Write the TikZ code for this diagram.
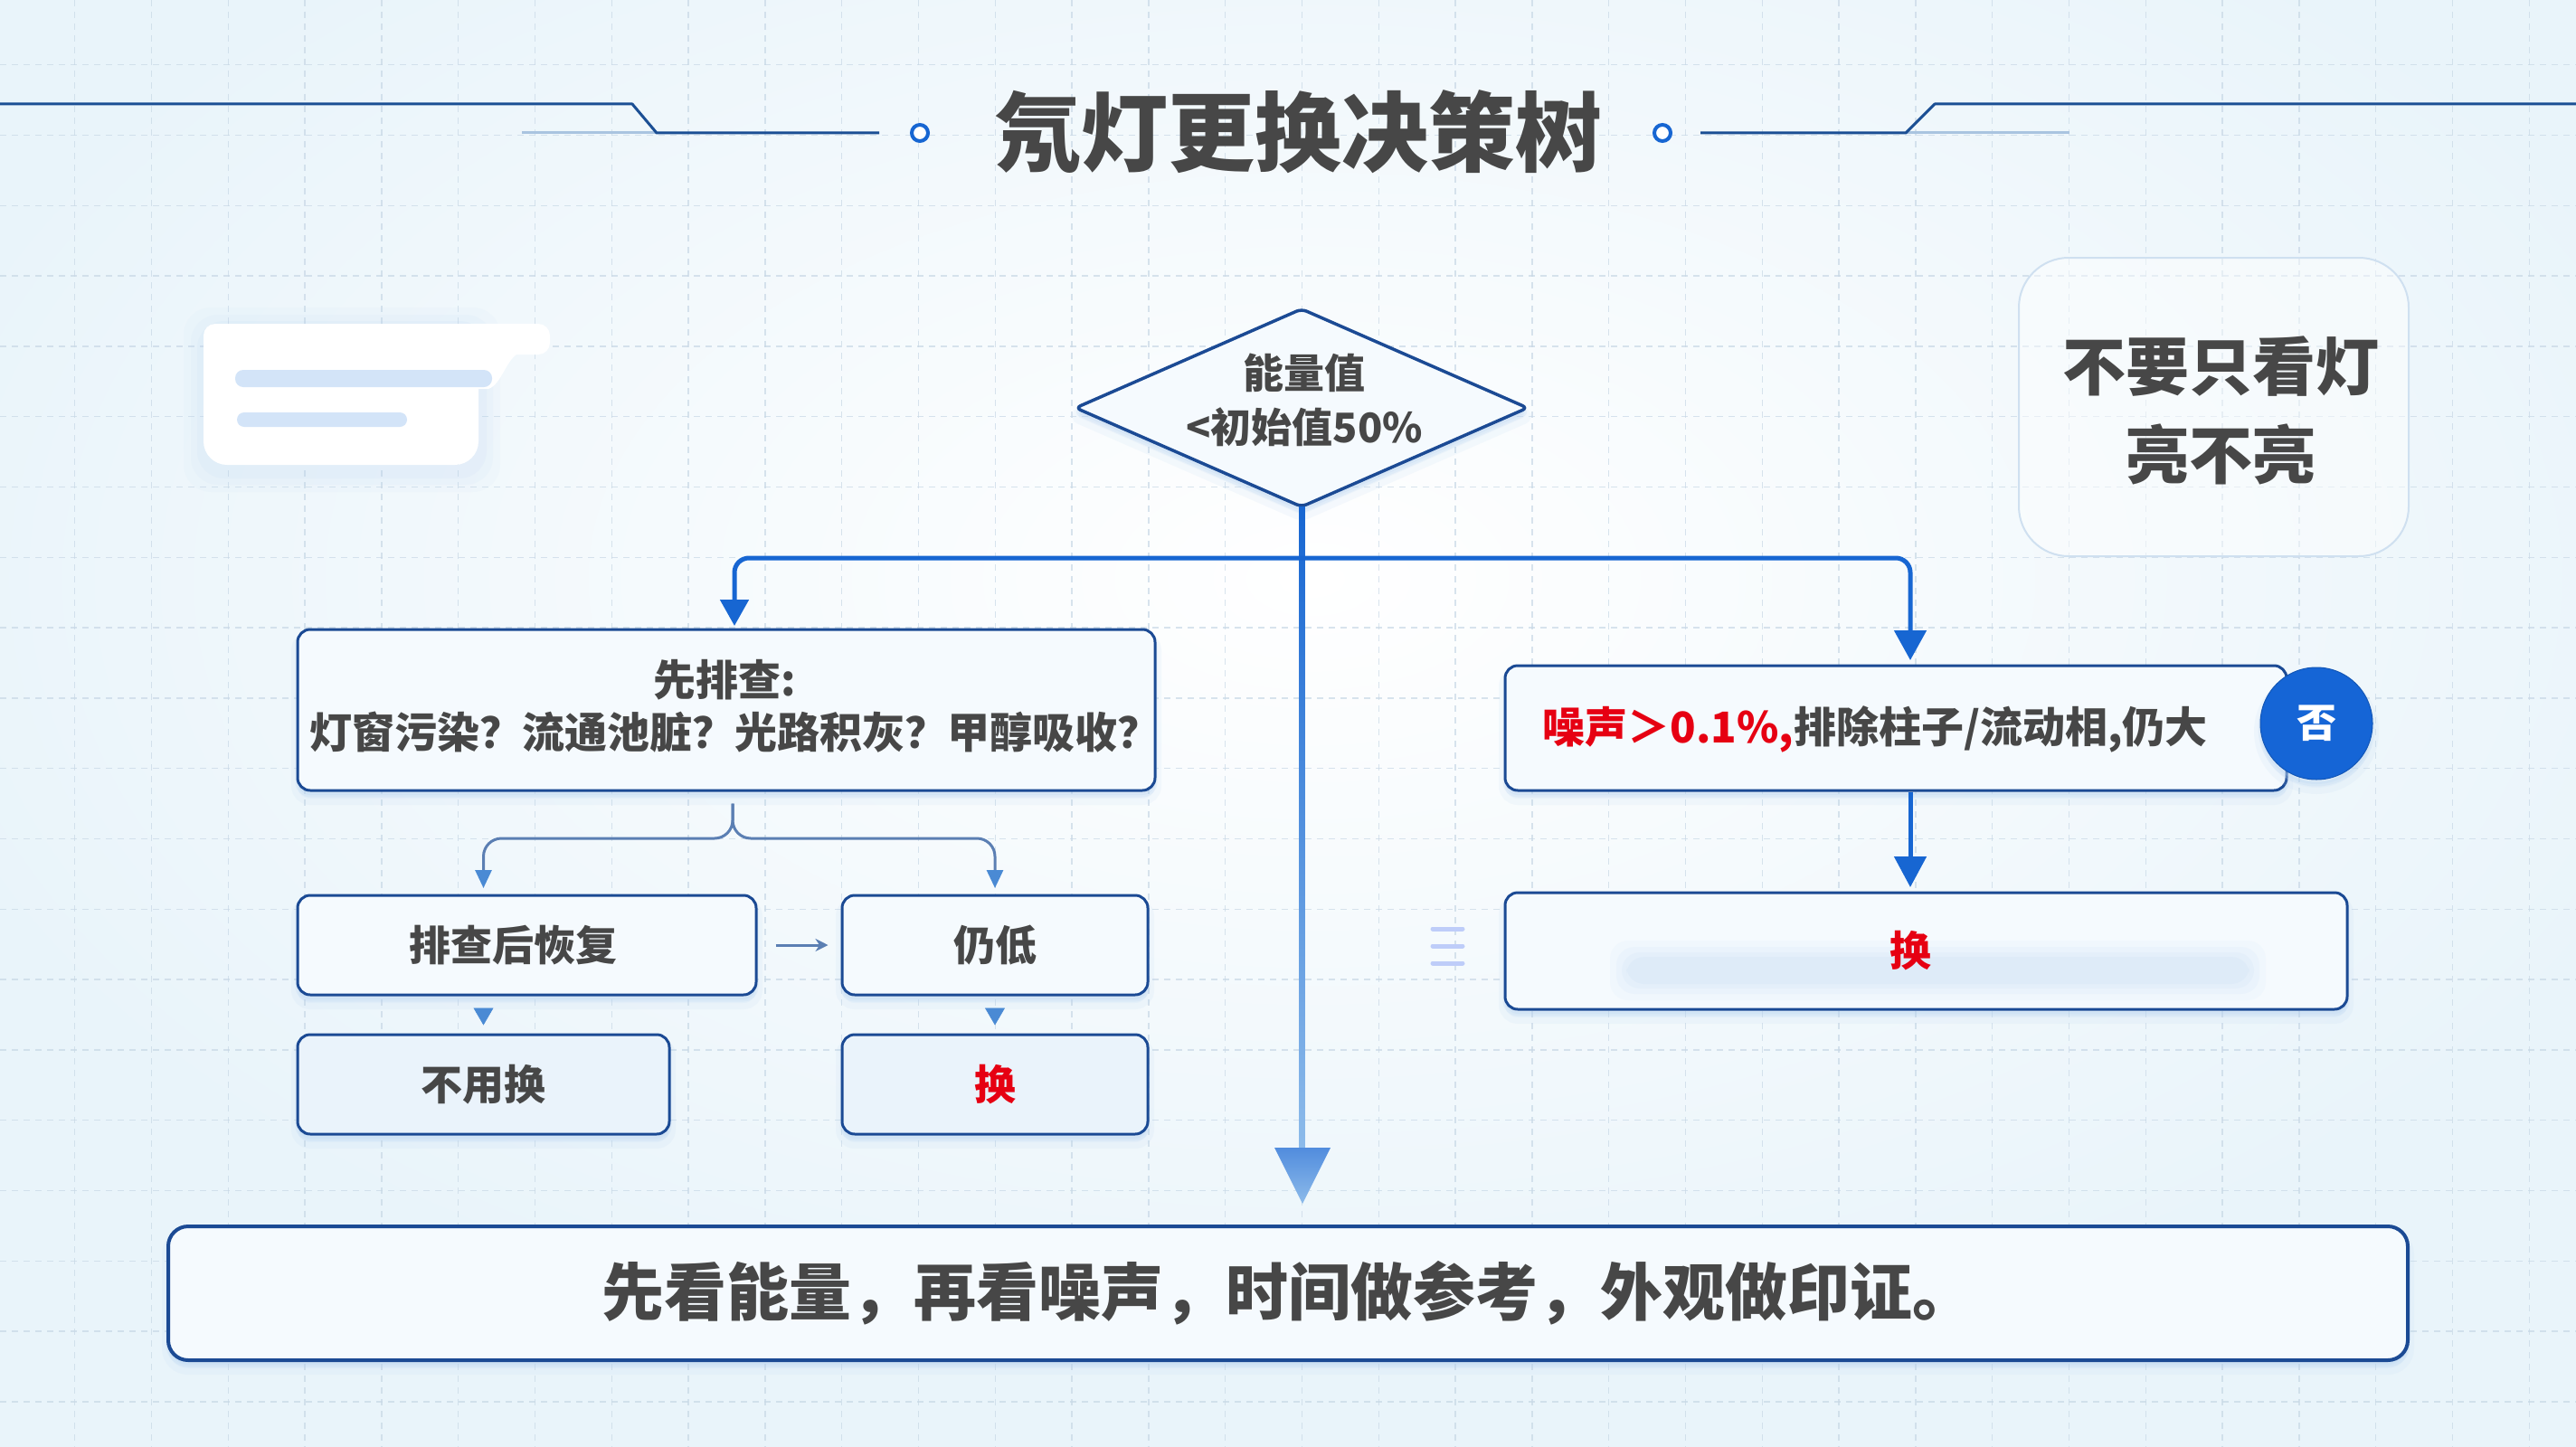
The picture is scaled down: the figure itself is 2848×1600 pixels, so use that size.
\documentclass[tikz,border=0pt]{standalone}
\usepackage{fontspec}
\setmainfont{Noto Sans CJK SC}
\usetikzlibrary{arrows.meta,shapes.geometric,shadows,calc}
\definecolor{navy}{HTML}{1B4A94}
\definecolor{lineblue}{HTML}{1766D2}
\definecolor{lightline}{HTML}{8DBBEA}
\definecolor{thinc}{HTML}{5B7FB3}
\definecolor{tric}{HTML}{4A8AD4}
\definecolor{txt}{HTML}{474747}
\definecolor{hot}{HTML}{E60012}
\definecolor{cblue}{HTML}{1565D6}
\definecolor{boxfill}{HTML}{F5FAFE}
\definecolor{boxfillb}{HTML}{EAF3FB}
\definecolor{bgc}{HTML}{E9F4FA}
\definecolor{glowc}{HTML}{B8D4F2}
\definecolor{gridc}{HTML}{C8D8E6}
\definecolor{barc}{HTML}{D3E4F8}
\definecolor{titleline}{HTML}{1B4F94}
\definecolor{titlelight}{HTML}{A9C4E0}
\definecolor{notec}{HTML}{CFE0F0}
\tikzset{
  glow/.style={general shadow={fill=glowc,draw=glowc,line width=14pt,opacity=0.12,shadow yshift=-9pt},
               general shadow={fill=glowc,draw=glowc,line width=5pt,opacity=0.22,shadow yshift=-5pt}},
  card/.style={rectangle,rounded corners=14pt,draw=navy,line width=3pt,fill=boxfill,inner sep=0pt,glow,text=txt},
  t46/.style={font=\bfseries\fontsize{46}{58}\selectfont,text=txt,align=center},
  conn/.style={draw=lineblue,line width=5pt},
  thinconn/.style={draw=thinc,line width=3pt},
  gridl/.style={draw=gridc,line width=1.4pt,dash pattern=on 7pt off 6pt,opacity=0.7},
}
\begin{document}
\begin{tikzpicture}[x=1pt,y=-1pt]
\useasboundingbox (0,0) rectangle (2848,1600);
% background
\fill[bgc] (0,0) rectangle (2848,1600);
\shade[inner color=white,outer color=bgc] (1450,640) ellipse (1600pt and 900pt);
\foreach \i in {0,...,33} \draw[gridl] ({82.6+84.8*\i},0) -- ++(0,1600);
\foreach \j in {0,...,20} \draw[gridl] (0,{71.7+77.8*\j}) -- ++(2848,0);

% title
\node[font=\bfseries\fontsize{96}{110}\selectfont,text=txt] (title) at (1435,146) {氖灯更换决策树};
\draw[titlelight,line width=3pt] (577,147) -- (726,147);
\draw[titlelight,line width=3pt] (2107,147) -- (2288,147);
\draw[titleline,line width=3pt,line join=round] (0,115) -- (699,115) -- (726,147) -- (972,147);
\draw[titleline,line width=3pt,line join=round] (1880,147) -- (2107,147) -- (2139,115) -- (2848,115);
\draw[lineblue,line width=4pt,fill=white] (1017,147) circle (9pt);
\draw[lineblue,line width=4pt,fill=white] (1838,147) circle (9pt);

% decorative card top left
\begin{scope}
\foreach \r/\o in {22/0.06,14/0.08,7/0.1}
  \fill[glowc,opacity=\o,rounded corners=30pt] (225-\r,362-\r) rectangle (531+\r,522+\r);
\fill[white,rounded corners=26pt] (225,358) rectangle (529,514);
\fill[white,rounded corners=13pt] (225,358) rectangle (608,392);
\fill[white] (520,390) -- (575,390) .. controls (560,395) and (555,425) .. (540,430) -- (520,430) -- cycle;
\fill[barc,rounded corners=9pt] (260,409) rectangle (544,428);
\fill[barc,rounded corners=8pt] (262,456) rectangle (450,472);
\end{scope}

% note box
\node[rectangle,rounded corners=55pt,draw=notec,line width=2pt,fill=white,fill opacity=0.45,
      minimum width=431pt,minimum height=330pt,inner sep=0pt] (note) at (2447.5,450) {};
\node[font=\bfseries\fontsize{70}{98}\selectfont,text=txt,align=center] (notet) at (2455,454) {不要只看灯\\亮不亮};

% diamond
\node[diamond,draw=navy,line width=3.5pt,fill=boxfill,minimum width=501pt,minimum height=220pt,
      inner sep=0pt,aspect=2.28,rounded corners=6pt,glow] (dia) at (1439,451) {};
\node[t46,font=\bfseries\fontsize{45}{60}\selectfont] (diat) at (1442,442) {能量值\\<初始值50\%};

% boxes
\node[card,minimum width=948pt,minimum height=178pt] (b1) at (803,785) {};
\node[t46,font=\bfseries\fontsize{47}{58}\selectfont] (b1t) at (812,781) {先排查:\kern22pt\\灯窗污染？流通池脏？光路积灰？甲醇吸收？};
\node[card,minimum width=507pt,minimum height=110pt] (b2) at (582.5,1045) {};
\node[t46] (b2t) at (567,1045) {排查后恢复};
\node[card,minimum width=338pt,minimum height=110pt,t46] (b3) at (1100,1045) {仍低};
\node[card,fill=boxfillb,minimum width=411pt,minimum height=110pt,t46] (b4) at (534.5,1199) {不用换};
\node[card,fill=boxfillb,minimum width=338pt,minimum height=110pt,t46,text=hot] (b5) at (1100,1199) {换};

\node[card,minimum width=864pt,minimum height=138pt] (rbox) at (2096,805) {};
\node[t46,font=\bfseries\fontsize{47}{58}\selectfont] (rboxt) at (2073,806) {{\color{hot}噪声＞0.1\%,}排除柱子/流动相,仍大};
\node[circle,fill=cblue,draw=cblue!85!black,line width=1pt,minimum size=124pt,inner sep=0pt,text=white,
      font=\bfseries\fontsize{44}{50}\selectfont,glow] (no) at (2561,800) {否};

\node[card,minimum width=931pt,minimum height=129pt] (hbox) at (2129.5,1051.5) {};
\foreach \r/\o in {20/0.07,13/0.09,7/0.11,2/0.13}
  \fill[glowc,opacity=\o,rounded corners=20pt] (1800-\r,1060-\r) rectangle (2485+\r,1086+\r);
\coordinate (jr) at (2112,617);
\node[font=\bfseries\fontsize{46}{50}\selectfont,text=hot] (hboxt) at (jr |- hbox.center) {换};
\foreach \yy in {1027,1046,1065} \draw[barc!90!blue,line width=5pt,line cap=round] (1584,\yy) -- (1617,\yy);

\node[card,rounded corners=22pt,line width=4pt,minimum width=2476pt,minimum height=148pt,
      font=\bfseries\fontsize{69}{80}\selectfont] (sum) at (1424,1430) {先看能量，再看噪声，时间做参考，外观做印证。};

% connectors
\coordinate (j) at (1440,617);
\shade[top color=lineblue,bottom color=lightline] ($(dia.south)+(-2.8,-2)$) rectangle (1442.8,1270);
\coordinate (mhead) at (1440,1269);
\coordinate (mtip) at (1440,1331);
\shade[top color=lineblue!75!white,bottom color=lightline] ($(mhead)+(-31,0)$) -- ($(mhead)+(31,0)$) -- (mtip) -- cycle;
\draw[conn,rounded corners=16pt,-{Triangle[width=31pt,length=29pt]},shorten >=2.5pt] (j) -| ([xshift=9pt]b1.north);
\draw[conn,rounded corners=16pt,-{Triangle[width=35pt,length=33pt]},shorten >=4.5pt] (j) -| (jr |- rbox.north);
\draw[conn,-{Triangle[width=35pt,length=34pt]},shorten >=4.5pt] (jr |- rbox.south) -- (jr |- hbox.north);

\coordinate (bs) at ([xshift=7pt,yshift=-13pt]b1.south);
\coordinate (bm) at (bs |- 0,927);
\draw[thinconn,rounded corners=20pt,-{Triangle[width=18pt,length=20pt,color=tric]},shorten >=6.5pt] (bs) -- (bm) -| (b4.north |- b2.north);
\draw[thinconn,rounded corners=20pt,-{Triangle[width=18pt,length=20pt,color=tric]},shorten >=6.5pt] (bs) -- (bm) -| (b5.north |- b3.north);
\draw[thinconn,-{Stealth[length=14pt,width=14pt]},shorten <=20pt,shorten >=14pt] (b2.east) -- (b3.west);
\draw[tric,line width=0.5pt,-{Triangle[width=22pt,length=19pt]},shorten <=16pt,shorten >=9pt] (b4.north |- b2.south) -- (b4.north);
\draw[tric,line width=0.5pt,-{Triangle[width=22pt,length=19pt]},shorten <=16pt,shorten >=9pt] (b5.north |- b3.south) -- (b5.north);
\end{tikzpicture}
\end{document}
